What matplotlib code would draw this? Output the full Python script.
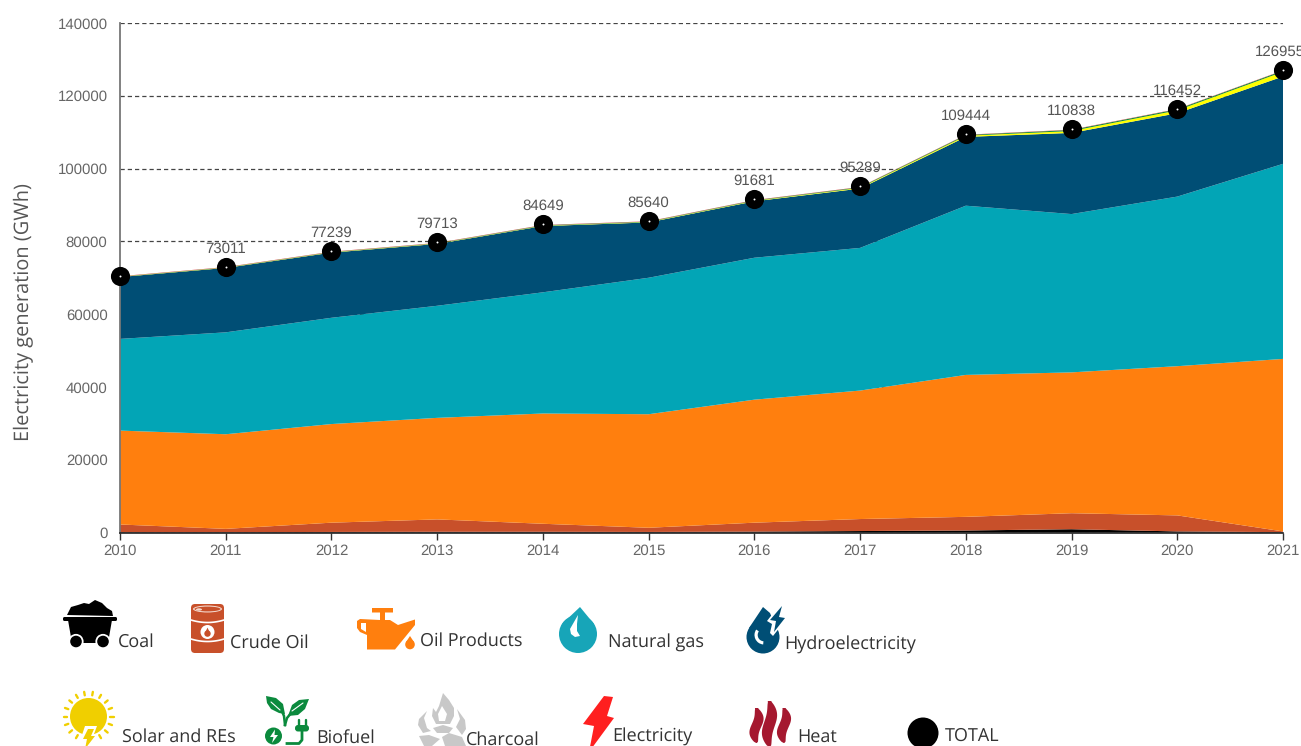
import numpy as np
import matplotlib
matplotlib.use("Agg")
import matplotlib.pyplot as plt
from matplotlib.patches import Polygon, Circle, Ellipse, FancyBboxPatch, Wedge

plt.rcParams["text.hinting"] = "no_hinting"
plt.rcParams["text.hinting_factor"] = 1

years = [2010, 2011, 2012, 2013, 2014, 2015, 2016, 2017, 2018, 2019, 2020, 2021]
coal = [100, 100, 150, 200, 200, 150, 250, 400, 550, 900, 300, 100]
crude_oil = [2100, 900, 2550, 3400, 2200, 1150, 2450, 3300, 3750, 4400, 4400, 200]
oil_products = [25800, 26000, 27100, 27900, 30300, 31200, 33800, 35300, 39000, 38700, 41000, 47400]
natural_gas = [25200, 28000, 29200, 30800, 33300, 37500, 39000, 39200, 46500, 43500, 46600, 53600]
hydro = [17000, 17700, 17900, 17000, 18200, 15200, 15500, 16300, 18900, 22300, 22900, 24000]
solar = [80, 90, 100, 100, 100, 120, 140, 200, 320, 520, 800, 1300]
biofuel = [60, 70, 80, 90, 120, 120, 130, 170, 200, 290, 300, 300]
charcoal = [10, 10, 10, 10, 10, 10, 10, 10, 10, 10, 10, 10]
electricity = [60, 60, 60, 60, 60, 60, 60, 60, 60, 60, 60, 60]
heat = [10, 10, 10, 10, 10, 10, 10, 10, 10, 10, 10, 10]
total = [70500, 73011, 77239, 79713, 84649, 85640, 91681, 95289, 109444, 110838, 116452, 126955]
total_labels = ["", "73011", "77239", "79713", "84649", "85640", "91681", "95289", "109444", "110838", "116452", "126955"]
series = [coal, crude_oil, oil_products, natural_gas, hydro, solar, biofuel, charcoal, electricity, heat]
colors = ["#000000", "#C8502A", "#FF7F0E", "#02A5B6", "#004E75", "#FFFF00", "#0B8A3D", "#C8C8C8", "#FF1F1F", "#A5182F"]
yticks = [0, 20000, 40000, 60000, 80000, 100000, 120000, 140000]

W, H = 1301, 746
fig = plt.figure(figsize=(W / 100, H / 100), dpi=100, facecolor="white")
L, R, T, B = 120, 1283, 23, 532.5
ax = fig.add_axes([L / W, 1 - B / H, (R - L) / W, (B - T) / H])
ax.stackplot(years, series, colors=colors, linewidth=0, zorder=2)
ax.set_xlim(2010, 2021)
ax.set_ylim(0, 140000)
ax.set_xticks(years)
ax.set_yticks(yticks)
ax.yaxis.grid(True, color="#444444", linestyle=(0, (3.4, 2.4)), linewidth=0.9, zorder=1)
ax.set_axisbelow(True)
for s in ("top", "right"):
    ax.spines[s].set_visible(False)
ax.spines["left"].set_color("#777777")
ax.spines["left"].set_linewidth(1.3)
ax.spines["bottom"].set_color("#222222")
ax.spines["bottom"].set_linewidth(1.2)
ax.tick_params(axis="x", length=5, width=1, color="#333333", labelcolor="#666666", pad=3)
ax.tick_params(axis="y", length=0, labelcolor="#666666", pad=9)
for t in ax.get_xticklabels() + ax.get_yticklabels():
    t.set_fontfamily("Liberation Sans")
    t.set_fontsize(10.8)
ax.scatter(years, total, s=190, color="black", linewidths=0, zorder=5, clip_on=False)
ax.scatter(years, total, s=2, color="white", linewidths=0, zorder=6, clip_on=False)
for x, y, lab in zip(years, total, total_labels):
    if lab:
        dx = -2 if x == years[-1] else 0
        ax.annotate(lab, (x, y), xytext=(dx, 8), textcoords="offset points", ha="center", va="bottom",
                    fontsize=10.8, color="#555555", family="Liberation Sans", zorder=7, annotation_clip=False)
fig.text(23.5 / W, 1 - 312 / H, "Electricity generation (GWh)", rotation=90, ha="center", va="center",
         fontsize=14.7, color="#555555", family="Open Sans")

# overlay in pixel coordinates for the pictographic legend
ov = fig.add_axes([0, 0, 1, 1], facecolor="none")
ov.set_xlim(0, W)
ov.set_ylim(H, 0)
ov.axis("off")


def poly(pts, c, z=3):
    ov.add_patch(Polygon(pts, closed=True, facecolor=c, edgecolor="none", zorder=z))


def circ(x, y, r, c, z=3):
    ov.add_patch(Circle((x, y), r, facecolor=c, edgecolor="none", zorder=z))


def line(xs, ys, c, lw, z=4):
    ov.plot(xs, ys, color=c, lw=lw, solid_capstyle="round", zorder=z)


# Coal
k = colors[0]
poly([(67, 615), (71, 607), (78, 605), (84, 603), (89, 604), (95, 600), (102, 603), (107, 608), (112, 611), (113, 616)], k)
ov.add_patch(FancyBboxPatch((63, 617), 54, 4, boxstyle="round,pad=0,rounding_size=1.5", fc=k, ec="none", zorder=3))
poly([(68, 620), (112, 620), (108, 643), (72, 643)], k)
for cx in (76, 103):
    circ(cx, 641.5, 7.6, "white", 4)
    circ(cx, 641.5, 5.8, k, 5)

# Crude oil
c = colors[1]
ov.add_patch(FancyBboxPatch((191, 604), 33, 49, boxstyle="round,pad=0,rounding_size=4", fc=c, ec="none", zorder=3))
ov.add_patch(Ellipse((207.5, 609), 29, 7, fc="#F4D9CE", ec="none", zorder=4))
ov.add_patch(Ellipse((207.5, 609), 26, 4.8, fc=c, ec="none", zorder=5))
ov.add_patch(Ellipse((199, 609.5), 6, 2.4, fc="#F4D9CE", ec="none", zorder=6))
ov.plot(np.linspace(191, 224, 20), 620 + 2.5 * (1 - np.linspace(-1, 1, 20) ** 2), color="white", lw=1.2, zorder=4)
ov.plot(np.linspace(191, 224, 20), 639 + 2.5 * (1 - np.linspace(-1, 1, 20) ** 2), color="white", lw=1.2, zorder=4)
circ(207.5, 632, 7, "white", 4)
circ(207.5, 633.6, 3.2, c, 5)
poly([(205.2, 632.6), (207.5, 627.6), (209.8, 632.6)], c, 5)

# Oil products
c = colors[2]
poly([(372, 608), (393, 608), (393, 612.5), (385, 612.5), (385, 620), (390, 620), (398, 625), (415, 619.5), (415, 625),
      (395, 649.5), (367, 649.5), (367, 635), (360, 632), (357, 628), (357, 621), (360, 619), (380, 620),
      (380, 612.5), (372, 612.5)], c)
poly([(361, 623), (361, 629), (366, 632), (366, 623)], "white", 4)
circ(410, 644.5, 4.8, c)
poly([(405.7, 642.5), (410, 636), (414.3, 642.5)], c)

# Natural gas
c = "#17A5B8"
circ(578, 634, 19, c)
poly([(562, 624), (580, 607), (594, 624)], c)
poly([(578, 615), (574, 622), (570, 629), (571, 634), (575, 637), (580, 636), (577, 631), (577, 624)], "white", 4)

# Hydroelectricity
c = colors[4]
circ(763, 637, 16.5, c)
poly([(749, 628), (763, 607), (770, 613), (778, 632)], c)
poly([(767, 621), (781, 603), (788, 603), (784, 615), (788, 617), (773, 636), (770, 633), (772, 624)], "white", 4)
poly([(770, 620), (782, 606), (779, 617), (785, 618), (774, 632), (776, 621)], c, 5)
ov.add_patch(Wedge((764, 635), 9.5, 95, 215, width=3.2, fc="white", ec="none", zorder=4))

# Solar and REs
c = "#F0CF00"
circ(88.5, 716.5, 18.5, c)
for a in np.arange(0, 360, 20):
    if 60 < a < 120:
        continue
    ca, sa = np.cos(np.radians(a)), np.sin(np.radians(a))
    line([88.5 + 21.5 * ca, 88.5 + 25 * ca], [716.5 + 21.5 * sa, 716.5 + 25 * sa], c, 1.7)
poly([(85, 726), (97, 726), (94, 734), (98, 734), (84, 752), (85, 741), (80, 741)], "white", 4)
poly([(88, 729), (94, 729), (91, 736), (95, 736), (85, 749), (87, 739), (83, 739)], c, 5)

# Biofuel
c = colors[6]
poly([(266, 696), (276, 698), (283, 704), (285, 714), (279, 713), (271, 709), (267, 703)], c)
poly([(309, 699), (299, 700), (292, 705), (288, 716), (298, 715), (305, 709)], c)
line([271, 280], [702, 710], "white", 0.8, 4)
line([303, 292], [703, 711], "white", 0.8, 4)
ov.plot([281, 284, 285], [709, 716, 725], color=c, lw=1.8, zorder=3)
ov.plot([292, 287, 285], [712, 718, 725], color=c, lw=1.8, zorder=3)
circ(273.5, 736, 8.5, c)
poly([(275, 729.5), (270, 737), (273.5, 737), (272, 743), (278, 735), (274.5, 735)], "white", 4)
ov.plot([287, 299, 302, 302], [743.5, 743.5, 740, 732], color=c, lw=2, zorder=3)
ov.add_patch(FancyBboxPatch((295, 725), 14, 6.5, boxstyle="round,pad=0,rounding_size=3", fc=c, ec="none", zorder=3))
line([298.5, 298.5], [720, 726], c, 1.7)
line([305.5, 305.5], [720, 726], c, 1.7)

# Charcoal
c = "#C8C8C8"
poly([(443, 693), (449, 700), (454, 708), (454, 716), (450, 724), (436, 724), (432, 716), (433, 708), (436, 712), (439, 706)], c)
poly([(442, 706), (447, 714), (445, 721), (439, 721), (438, 714)], "white", 4)
poly([(427, 711), (424, 718), (427, 728), (431, 731), (423, 733), (418, 725), (419, 719)], c)
poly([(457, 709), (465, 720), (466, 729), (462, 735), (456, 727), (460, 719)], c)
poly([(433, 728), (443, 725), (453, 728), (449, 733), (437, 733)], c)
poly([(419, 736), (429, 735), (440, 739), (432, 746), (424, 746)], c)
poly([(442, 737), (449, 733), (462, 737), (466, 746), (445, 746)], c)

# Electricity
poly([(604, 696), (613, 697), (607, 716), (614, 718), (589, 752), (594, 726), (583, 724)], "#FF1F1F")

# Heat
c = colors[9]
for x0, top, bot, w in ((756.5, 708, 743, 5.0), (769.5, 701, 747, 5.6), (784, 708, 743, 5.0)):
    yy = np.linspace(top, bot, 30)
    u = (yy - top) / (bot - top)
    xx = x0 + 2.4 * np.sin(u * 2 * np.pi)
    half = w * np.sin(np.clip(u, 0.02, 1) * np.pi) ** 0.5 + 0.3
    poly(list(zip(xx - half, yy)) + list(zip((xx + half)[::-1], yy[::-1])), c)

# TOTAL
circ(923, 733, 15.5, "#000000")

legend_labels = ["Coal", "Crude Oil", "Oil Products", "Natural gas", "Hydroelectricity",
                 "Solar and REs", "Biofuel", "Charcoal", "Electricity", "Heat", "TOTAL"]
legend_x = [118, 230, 420, 608, 784, 122, 316, 466, 612, 797, 945]
legend_y = [642, 643, 641.5, 643.5, 645.5, 737.5, 738.5, 740.5, 736.5, 738.5, 736.5]
for s, x, y in zip(legend_labels, legend_x, legend_y):
    ov.text(x, y, s, ha="left", va="center", fontsize=13.1, color="#333333", family="Open Sans", zorder=8)

fig.savefig("out.png", dpi=100, facecolor="white")
